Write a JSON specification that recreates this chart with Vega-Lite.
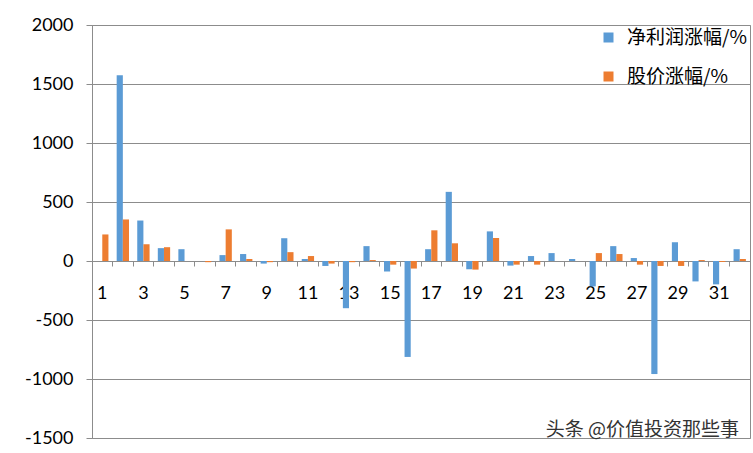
{
  "$schema": "https://vega.github.io/schema/vega-lite/v6.json",
  "width": 658,
  "height": 413,
  "autosize": {"type": "none"},
  "padding": {"left": 92, "top": 25, "right": 3, "bottom": 15},
  "title": {
    "text": "头条 @价值投资那些事",
    "orient": "bottom",
    "anchor": "end",
    "frame": "group",
    "font": "Noto Sans CJK SC",
    "fontSize": 19,
    "fontWeight": "normal",
    "color": "#333333",
    "offset": -26,
    "dx": -11
  },
  "data": {
    "values": [
      {"cat": 1, "series": "净利润涨幅/%", "value": 0},
      {"cat": 1, "series": "股价涨幅/%", "value": 225},
      {"cat": 2, "series": "净利润涨幅/%", "value": 1575},
      {"cat": 2, "series": "股价涨幅/%", "value": 352},
      {"cat": 3, "series": "净利润涨幅/%", "value": 343},
      {"cat": 3, "series": "股价涨幅/%", "value": 142},
      {"cat": 4, "series": "净利润涨幅/%", "value": 109},
      {"cat": 4, "series": "股价涨幅/%", "value": 117},
      {"cat": 5, "series": "净利润涨幅/%", "value": 100},
      {"cat": 5, "series": "股价涨幅/%", "value": 0},
      {"cat": 6, "series": "净利润涨幅/%", "value": 0},
      {"cat": 6, "series": "股价涨幅/%", "value": -10},
      {"cat": 7, "series": "净利润涨幅/%", "value": 50},
      {"cat": 7, "series": "股价涨幅/%", "value": 268},
      {"cat": 8, "series": "净利润涨幅/%", "value": 59},
      {"cat": 8, "series": "股价涨幅/%", "value": 17},
      {"cat": 9, "series": "净利润涨幅/%", "value": -22},
      {"cat": 9, "series": "股价涨幅/%", "value": -10},
      {"cat": 10, "series": "净利润涨幅/%", "value": 193},
      {"cat": 10, "series": "股价涨幅/%", "value": 75},
      {"cat": 11, "series": "净利润涨幅/%", "value": 17},
      {"cat": 11, "series": "股价涨幅/%", "value": 42},
      {"cat": 12, "series": "净利润涨幅/%", "value": -42},
      {"cat": 12, "series": "股价涨幅/%", "value": -22},
      {"cat": 13, "series": "净利润涨幅/%", "value": -400},
      {"cat": 13, "series": "股价涨幅/%", "value": -10},
      {"cat": 14, "series": "净利润涨幅/%", "value": 126},
      {"cat": 14, "series": "股价涨幅/%", "value": 8},
      {"cat": 15, "series": "净利润涨幅/%", "value": -89},
      {"cat": 15, "series": "股价涨幅/%", "value": -31},
      {"cat": 16, "series": "净利润涨幅/%", "value": -813},
      {"cat": 16, "series": "股价涨幅/%", "value": -64},
      {"cat": 17, "series": "净利润涨幅/%", "value": 100},
      {"cat": 17, "series": "股价涨幅/%", "value": 260},
      {"cat": 18, "series": "净利润涨幅/%", "value": 586},
      {"cat": 18, "series": "股价涨幅/%", "value": 150},
      {"cat": 19, "series": "净利润涨幅/%", "value": -70},
      {"cat": 19, "series": "股价涨幅/%", "value": -73},
      {"cat": 20, "series": "净利润涨幅/%", "value": 251},
      {"cat": 20, "series": "股价涨幅/%", "value": 195},
      {"cat": 21, "series": "净利润涨幅/%", "value": -39},
      {"cat": 21, "series": "股价涨幅/%", "value": -31},
      {"cat": 22, "series": "净利润涨幅/%", "value": 42},
      {"cat": 22, "series": "股价涨幅/%", "value": -31},
      {"cat": 23, "series": "净利润涨幅/%", "value": 67},
      {"cat": 23, "series": "股价涨幅/%", "value": 0},
      {"cat": 24, "series": "净利润涨幅/%", "value": 17},
      {"cat": 24, "series": "股价涨幅/%", "value": 0},
      {"cat": 25, "series": "净利润涨幅/%", "value": -215},
      {"cat": 25, "series": "股价涨幅/%", "value": 67},
      {"cat": 26, "series": "净利润涨幅/%", "value": 126},
      {"cat": 26, "series": "股价涨幅/%", "value": 59},
      {"cat": 27, "series": "净利润涨幅/%", "value": 25},
      {"cat": 27, "series": "股价涨幅/%", "value": -31},
      {"cat": 28, "series": "净利润涨幅/%", "value": -958},
      {"cat": 28, "series": "股价涨幅/%", "value": -42},
      {"cat": 29, "series": "净利润涨幅/%", "value": 159},
      {"cat": 29, "series": "股价涨幅/%", "value": -42},
      {"cat": 30, "series": "净利润涨幅/%", "value": -173},
      {"cat": 30, "series": "股价涨幅/%", "value": 8},
      {"cat": 31, "series": "净利润涨幅/%", "value": -198},
      {"cat": 31, "series": "股价涨幅/%", "value": -8},
      {"cat": 32, "series": "净利润涨幅/%", "value": 100},
      {"cat": 32, "series": "股价涨幅/%", "value": 17}
    ]
  },
  "mark": {"type": "bar"},
  "encoding": {
    "x": {
      "field": "cat",
      "type": "ordinal",
      "scale": {"paddingInner": 0, "paddingOuter": 0},
      "axis": {
        "orient": "bottom",
        "offset": -177,
        "bandPosition": 0,
        "labelExpr": "datum.value % 2 == 1 ? datum.label : ''",
        "labelOverlap": false,
        "labelAngle": 0,
        "labelFontSize": 18,
        "labelColor": "#000000",
        "labelPadding": 18,
        "ticks": true,
        "tickSize": 5,
        "tickColor": "#8c8c8c",
        "domainColor": "#8c8c8c",
        "grid": false,
        "title": null
      }
    },
    "xOffset": {
      "field": "series",
      "type": "nominal",
      "scale": {"domain": ["净利润涨幅/%", "股价涨幅/%"], "paddingInner": 0, "paddingOuter": 0.667}
    },
    "y": {
      "field": "value",
      "type": "quantitative",
      "scale": {"domain": [-1500, 2000], "nice": false},
      "axis": {
        "values": [-1500, -1000, -500, 0, 500, 1000, 1500, 2000],
        "labelExpr": "'' + datum.value",
        "grid": true,
        "gridColor": "#8c8c8c",
        "domainColor": "#8c8c8c",
        "tickColor": "#8c8c8c",
        "tickSize": 6,
        "labelPadding": 13,
        "labelFontSize": 18,
        "labelColor": "#000000",
        "title": null
      }
    },
    "color": {
      "field": "series",
      "type": "nominal",
      "scale": {"domain": ["净利润涨幅/%", "股价涨幅/%"], "range": ["#5b9bd5", "#ed7d31"]},
      "legend": {
        "orient": "none",
        "legendX": 507,
        "legendY": 3,
        "title": null,
        "padding": 0,
        "symbolType": "square",
        "symbolSize": 100,
        "symbolStrokeWidth": 0,
        "labelFont": "Noto Sans CJK SC",
        "labelFontSize": 19,
        "labelColor": "#000000",
        "labelOffset": 9,
        "labelLimit": 240,
        "rowPadding": 19
      }
    }
  },
  "config": {
    "font": "Lato",
    "view": {"stroke": "#8c8c8c"}
  }
}
